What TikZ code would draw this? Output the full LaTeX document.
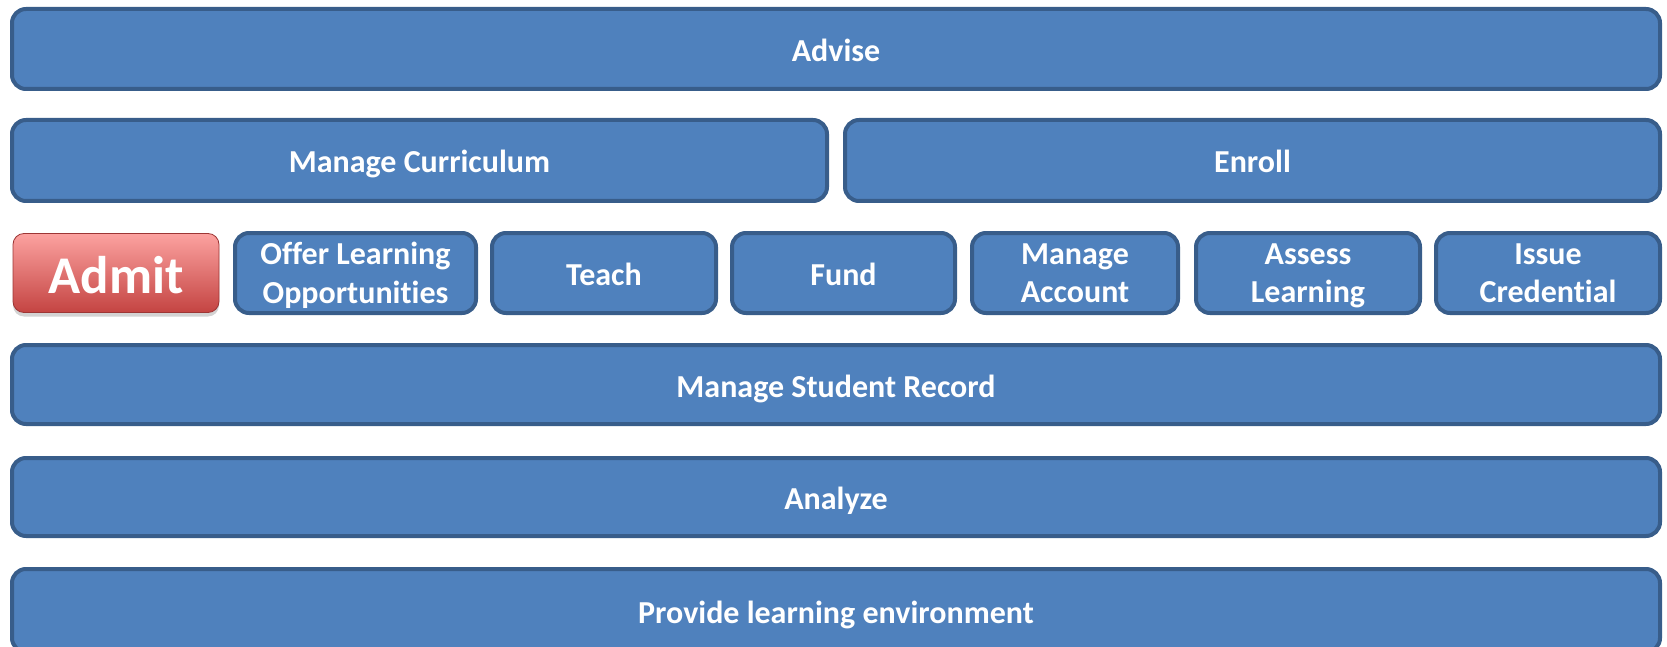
\documentclass[tikz,border=0pt]{standalone}
\usepackage{fontspec}
\setmainfont{Carlito}[Ligatures=NoCommon]
\usepackage{tikz}
\usetikzlibrary{shadows}
\definecolor{barfill}{RGB}{79,129,189}
\definecolor{bardraw}{RGB}{56,93,138}
\definecolor{admittop}{RGB}{252,162,160}
\definecolor{admitmid}{RGB}{232,96,94}
\definecolor{admitbot}{RGB}{196,68,66}
\tikzstyle{bar}=[draw=bardraw, fill=barfill, line width=4pt, rounded corners=14pt,
    text=white, font=\bfseries\fontsize{32}{38.5}\selectfont, align=center, inner sep=0pt]
\tikzstyle{one_line}=[text height=26pt, text depth=1pt]
\tikzstyle{two_lines}=[text depth=-7pt]
\tikzstyle{admit_btn}=[rounded corners=11pt, top color=admittop, middle color=admitmid,
    bottom color=admitbot, draw=admitbot!80!black, line width=0.8pt, text=white,
    font=\bfseries\fontsize{53}{58}\selectfont, inner sep=0pt,
    text height=42pt, text depth=1pt,
    drop shadow={opacity=0.35, shadow xshift=0pt, shadow yshift=-4pt}]

\begin{document}
\begin{tikzpicture}[x=1pt,y=-1pt]
\useasboundingbox (0,0) rectangle (1667,647);
\node[bar, one_line, minimum width=1648pt, minimum height=80pt] (advise) at (836,49){Advise};
\node[bar, one_line, minimum width=815pt, minimum height=81pt] (curriculum) at (419.5,160.5){Manage Curriculum};
\node[bar, one_line, minimum width=815pt, minimum height=81pt] (enroll) at (1252.5,160.5){Enroll};
\node[admit_btn, minimum width=206pt, minimum height=79pt] (admit) at (116,273){Admit};
\node[bar, two_lines, minimum width=241pt, minimum height=80pt] (offer) at (355.5,273){Offer Learning\\Opportunities};
\node[bar, one_line, minimum width=224pt, minimum height=80pt] (teach) at (604,273){Teach};
\node[bar, one_line, minimum width=223pt, minimum height=80pt] (fund) at (843.5,273){Fund};
\node[bar, two_lines, minimum width=206pt, minimum height=80pt] (account) at (1075,273){Manage\\Account};
\node[bar, two_lines, minimum width=224pt, minimum height=80pt] (assess) at (1308,273){Assess\\Learning};
\node[bar, two_lines, minimum width=224pt, minimum height=80pt] (credential) at (1548,273){Issue\\Credential};
\node[bar, one_line, minimum width=1648pt, minimum height=79pt] (record) at (836,384.5){Manage Student Record};
\node[bar, one_line, minimum width=1648pt, minimum height=78pt] (analyze) at (836,497){Analyze};
\node[bar, one_line, minimum width=1648pt, minimum height=83pt] (environment) at (836,610.5){Provide learning environment};
\end{tikzpicture}
\end{document}
